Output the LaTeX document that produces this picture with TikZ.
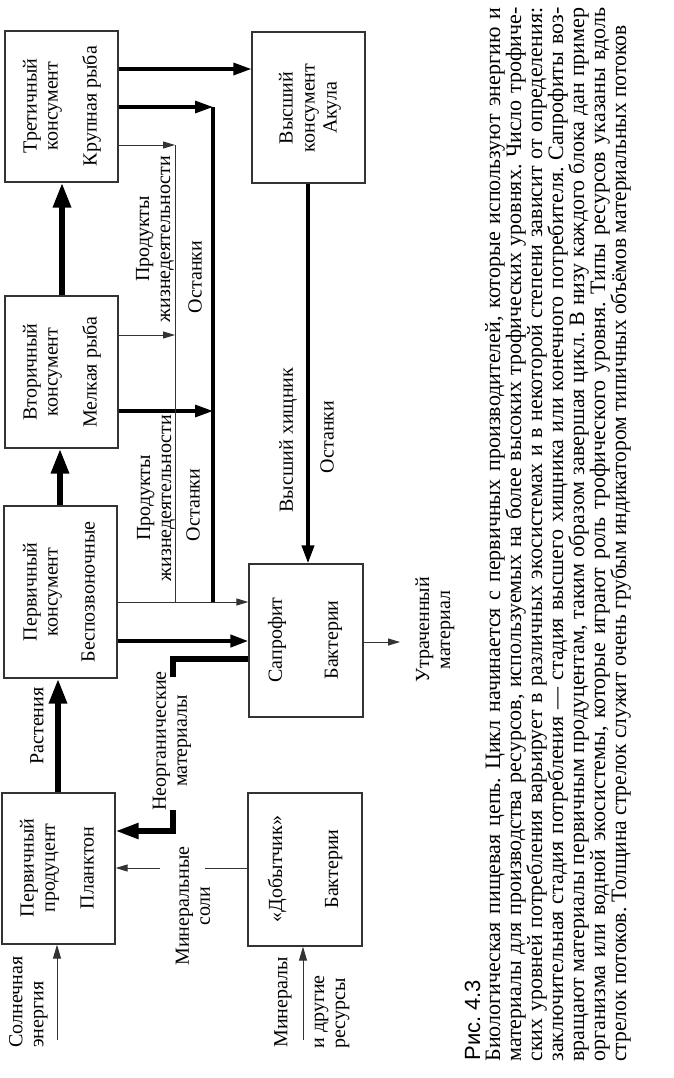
\documentclass[tikz,border=0pt]{standalone}
\usepackage{fontspec}
\setmainfont{Liberation Serif}
\newfontfamily\capsans{Liberation Sans}
\usepackage{graphicx}
\usetikzlibrary{arrows.meta,fit}
\frenchspacing
\newsavebox\capbox
\newcommand\capline[2]{%
  \sbox\capbox{#2}%
  \ifdim\wd\capbox>#1\relax
    \resizebox{#1}{\height}{\usebox\capbox}%
  \else
    \makebox[#1][s]{#2}%
  \fi}
\begin{document}
\begin{tikzpicture}[x=0.5pt,y=-0.5pt,
  box/.style={draw=black!80, line width=0.6pt, inner sep=0pt},
  txt/.style={rotate=90, align=center, inner sep=0pt, font=\fontsize{10}{10.5}\selectfont},
  captxt/.style={rotate=90, anchor=base west, inner sep=0pt, font=\fontsize{11}{10.5}\selectfont},
  fl/.style={draw=black!80, line width=0.5pt, -{Triangle[length=6pt,width=3.5pt]}},
  fm/.style={line width=1.6pt, -{Triangle[length=9pt,width=6pt]}},
  fb/.style={line width=3pt, -{Triangle[length=12.5pt,width=8.5pt]}}]
\useasboundingbox (0,0) rectangle (674,1078);

% boxes
\node[box, fit={(5,31)(118,182)}] (A) {};
\node[box, fit={(252,32)(365,183)}] (B) {};
\node[box, fit={(5,296)(118,448)}] (C) {};
\node[box, fit={(4,506)(117,678)}] (D) {};
\node[box, fit={(249,564)(363,717)}] (E) {};
\node[box, fit={(2,793)(115,944)}] (F) {};
\node[box, fit={(248,793)(362,946)}] (G) {};

% box texts
\node[txt] (At) at (62,106) {Третичный\\консумент\\[9pt]Крупная рыба};
\node[txt] (Bt) at (310,108) {Высший\\[0.5pt]консумент\\[0.5pt]Акула};
\node[txt] (Ct) at (62,372) {Вторичный\\консумент\\[9pt]Мелкая рыба};
\node[txt] (Dt) at (59,592) {Первичный\\консумент\\[8pt]Беспозвоночные};
\node[txt] (Et) at (305,640) {Сапрофит\\[17.5pt]Бактерии};
\node[txt] (Ft) at (57,868) {Первичный\\продуцент\\[9pt]Планктон};
\node[txt] (Gt) at (305,869) {«Добытчик»\\[17.5pt]Бактерии};

% helper coordinates
\coordinate (pA) at (175,145);
\coordinate (oA) at (213,107);
\coordinate (pC) at (175,335);
\coordinate (oC) at (213,411);
\coordinate (pJ) at (175,602);
\coordinate (oJ) at (213,602);
\coordinate (n1) at (173,659);
\coordinate (n2) at (173,677);
\coordinate (n3) at (173,810);
\coordinate (n4) at (173,831);
\coordinate (m1) at (205,868);
\coordinate (m2) at (160,868);
\coordinate (s0) at (57,1040);
\coordinate (r0) at (303,1040);
\coordinate (u0) at (400,642);

% trophic chain
\draw[fb] (F.north -| 58,0) -- (D.south -| 58,0);
\draw[fb] (D.north -| 60,0) -- (C.south -| 60,0);
\draw[fb] (C.north -| 62,0) -- (A.south -| 62,0);
\draw[fm] (A.east |- 0,69) -- (B.west |- 0,69);

% waste products and remains
\draw[fl] (A.east |- pA) -- (pA);
\draw[fm] (A.east |- oA) -- (oA);
\draw[fl] (C.east |- pC) -- (pC);
\draw[fm] (C.east |- oC) -- (oC);
\draw[fl,-] (pA) -- (pJ);
\draw[fm,-] (oA) -- (oJ);
\draw[fl] (D.east |- pJ) -- (E.west |- pJ);
\draw[fm, line width=2pt] (D.east |- 0,641) -- (E.west |- 0,641);
\draw[fm, line width=1.9pt] (B.south -| 308,0) -- (E.north -| 308,0);

% inorganic materials
\draw[line width=2.6pt] (E.west |- n1) -- (n1) -- (n2);
\draw[line width=2.6pt, -{Triangle[length=11.5pt,width=7.5pt]}] (n3) -- (n4) -- (F.east |- n4);

% mineral salts
\draw[fl,-] (G.west |- m1) -- (m1);
\draw[fl] (m2) -- (F.east |- m2);

% inputs / outputs
\draw[fl, -{Triangle[length=7pt,width=4pt]}] (s0) -- (F.south -| s0);
\draw[fl, -{Triangle[length=7pt,width=4pt]}] (r0) -- (G.south -| r0);
\draw[fl] (E.east |- u0) -- (u0);

% labels
\node[txt] (lR) at (37,726) {Растения};
\node[txt] (lP1) at (155,239) {Продукты\\жизнедеятельности};
\node[txt] (lO1) at (195,277) {Останки};
\node[txt] (lP2) at (156,498) {Продукты\\жизнедеятельности};
\node[txt] (lO2) at (193,505) {Останки};
\node[txt] (lN) at (172,741) {Неорганические\\материалы};
\node[txt] (lM) at (193,906) {Минеральные\\соли};
\node[txt, align=left, anchor=west] (lS) at (28.5,1048) {Солнечная\\энергия};
\node[txt, anchor=west] (lMi) at (283,1048) {Минералы};
\node[txt, align=left, anchor=west] (lMr) at (332,1049) {и другие\\ресурсы};
\node[txt] (lV) at (288,440) {Высший хищник};
\node[txt] (lO3) at (327,437) {Останки};
\node[txt] (lU) at (435,630) {Утраченный\\материал};

% caption
\node[rotate=90, anchor=base west, inner sep=0pt, font=\capsans\fontsize{11}{11}\selectfont] (fig) at (480,1061) {Рис. 4.3};
\node[captxt] (c1) at (500,1062) {\capline{527pt}{Биологическая пищевая цепь. Цикл начинается с первичных производителей, которые используют энергию и}};
\node[captxt] (c2) at (521,1062) {\capline{527pt}{материалы для производства ресурсов, используемых на более высоких трофических уровнях. Число трофиче-}};
\node[captxt] (c3) at (542,1062) {\capline{527pt}{ских уровней потребления варьирует в различных экосистемах и в некоторой степени зависит от определения:}};
\node[captxt] (c4) at (563,1062) {\capline{527pt}{заключительная стадия потребления — стадия высшего хищника или конечного потребителя. Сапрофиты воз-}};
\node[captxt] (c5) at (584,1062) {\capline{527pt}{вращают материалы первичным продуцентам, таким образом завершая цикл. В низу каждого блока дан пример}};
\node[captxt] (c6) at (605,1062) {\capline{527pt}{организма или водной экосистемы, которые играют роль трофического уровня. Типы ресурсов указаны вдоль}};
\node[captxt] (c7) at (626,1062) {\capline{518pt}{стрелок потоков. Толщина стрелок служит очень грубым индикатором типичных объёмов материальных потоков}};
\end{tikzpicture}
\end{document}
